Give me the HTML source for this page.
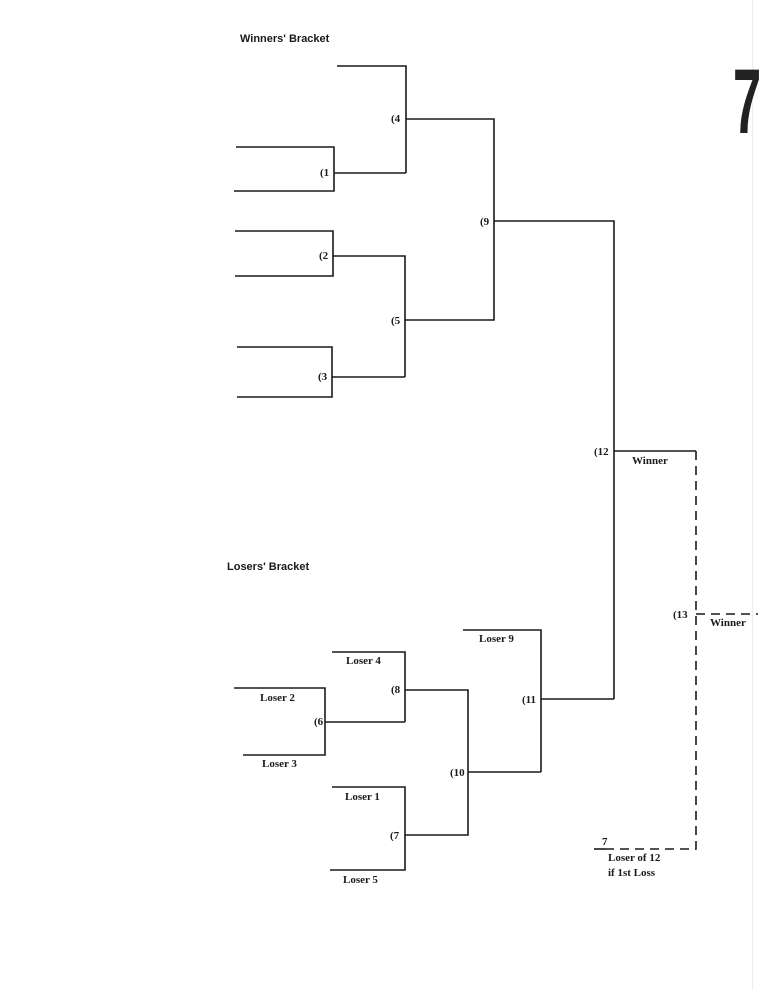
<!DOCTYPE html>
<html><head><meta charset="utf-8"><style>
html,body{margin:0;padding:0;background:#fff;width:765px;height:990px;overflow:hidden}
svg{display:block}
.l{stroke:#1a1a1a;stroke-width:1.6;fill:none}
.d{stroke:#1a1a1a;stroke-width:1.6;fill:none;stroke-dasharray:9,6}
.t{font-family:"Liberation Serif",serif;font-size:11px;fill:#1a1a1a;font-weight:bold}
.h{font-family:"Liberation Sans",sans-serif;font-size:11px;fill:#1a1a1a;font-weight:bold}
</style></head><body>
<svg width="765" height="990" viewBox="0 0 765 990">
<rect x="752" y="0" width="1" height="990" fill="#eee"/>
<text class="h" x="240" y="42">Winners' Bracket</text>
<text class="h" x="227" y="570">Losers' Bracket</text>
<text x="0" y="0" font-family="Liberation Sans,sans-serif" font-weight="bold" font-size="92" fill="#222" transform="translate(733,133) scale(0.55,1)">7</text>
<!-- winners -->
<path class="l" d="M337 66H406V173M236 147H334V191H234M334 173H406M406 119H494V320H405M235 231H333V276H235M333 256H405V377M237 347H332V397H237M332 377H405M494 221H614V699M614 451H696"/>
<text class="t" x="391" y="122">(4</text>
<text class="t" x="320" y="176">(1</text>
<text class="t" x="319" y="259">(2</text>
<text class="t" x="318" y="380">(3</text>
<text class="t" x="391" y="324">(5</text>
<text class="t" x="480" y="225">(9</text>
<text class="t" x="594" y="455">(12</text>
<text class="t" x="632" y="464">Winner</text>
<!-- final -->
<path class="d" d="M696 451V849H606M696 614H758"/>
<path class="l" d="M594 849H606"/>
<text class="t" x="673" y="618">(13</text>
<text class="t" x="710" y="626">Winner</text>
<text class="t" x="602" y="845">7</text>
<text class="t" x="608" y="861">Loser of 12</text>
<text class="t" x="608" y="876">if 1st Loss</text>
<!-- losers -->
<path class="l" d="M234 688H325V755H243M325 722H405M332 652H405V722M405 690H468V835H405M332 787H405V870H330M468 772H541M463 630H541V772M541 699H614"/>
<text class="t" x="260" y="701">Loser 2</text>
<text class="t" x="262" y="767">Loser 3</text>
<text class="t" x="346" y="664">Loser 4</text>
<text class="t" x="345" y="800">Loser 1</text>
<text class="t" x="343" y="883">Loser 5</text>
<text class="t" x="479" y="642">Loser 9</text>
<text class="t" x="314" y="725">(6</text>
<text class="t" x="391" y="693">(8</text>
<text class="t" x="390" y="839">(7</text>
<text class="t" x="450" y="776">(10</text>
<text class="t" x="522" y="703">(11</text>
</svg>
</body></html>
